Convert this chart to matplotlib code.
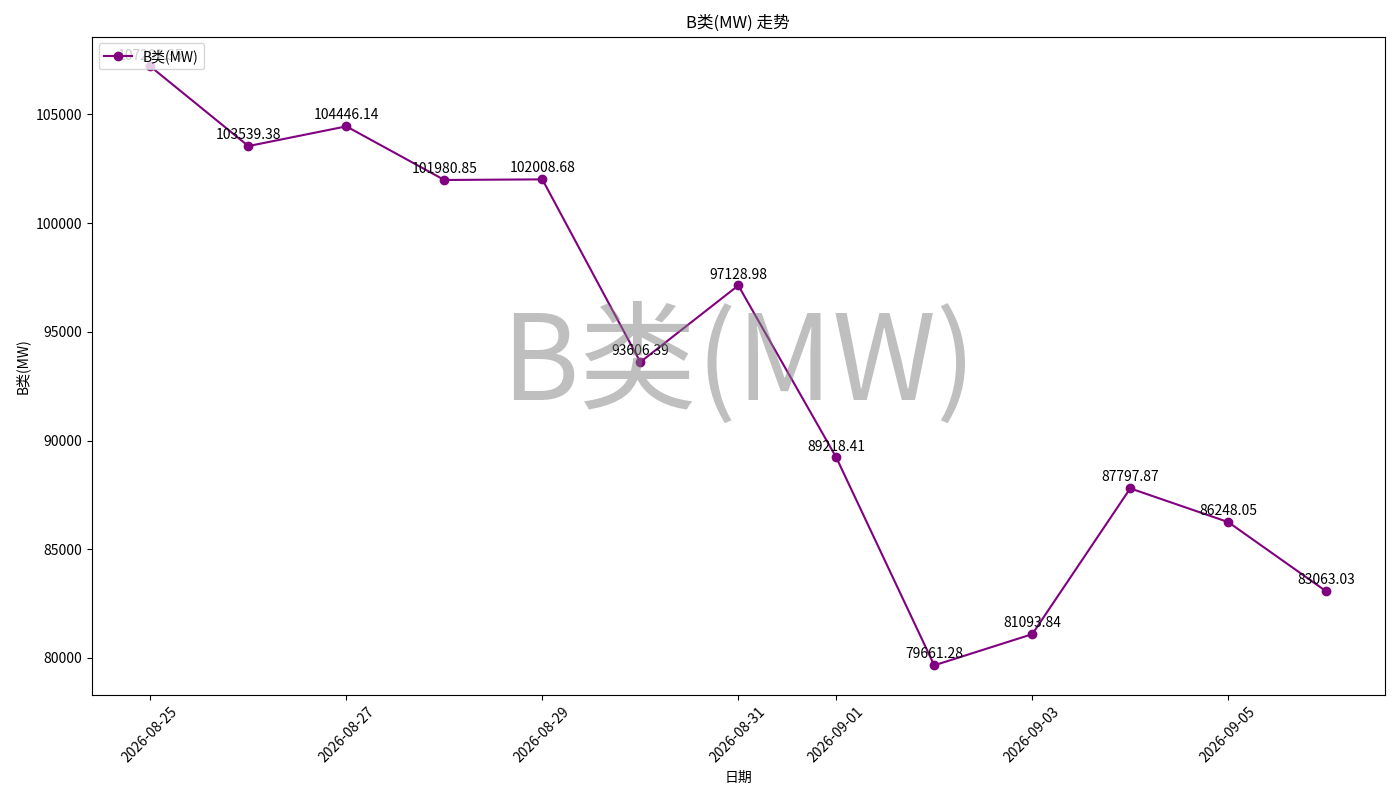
import matplotlib
matplotlib.use("Agg")
import matplotlib.pyplot as plt
import pandas as pd

plt.rcParams['font.family'] = ['Noto Sans CJK SC', 'DejaVu Sans']
plt.rcParams['axes.unicode_minus'] = False

# data
dates = pd.date_range("2026-08-25", "2026-09-06", freq="D")
values = [107201.35, 103539.38, 104446.14, 101980.85, 102008.68, 93606.39,
          97128.98, 89218.41, 79661.28, 81093.84, 87797.87, 86248.05, 83063.03]
series_name = "B类(MW)"

fig, ax = plt.subplots(figsize=(14, 8), dpi=100)
ax.plot(dates, values, marker="o", color="purple", label=series_name)

for d, v in zip(dates, values):
    ax.annotate(f"{v:.2f}", (d, v), textcoords="offset points", xytext=(0, 5),
                ha="center", fontsize=10)

# watermark
ax.text(0.5, 0.5, series_name, transform=ax.transAxes, fontsize=85,
        color="gray", alpha=0.5, ha="center", va="center")

ax.set_title(f"{series_name} 走势")
ax.set_xlabel("日期")
ax.set_ylabel(series_name)
ax.legend(loc="upper left")
plt.setp(ax.get_xticklabels(), rotation=45)
fig.tight_layout()
fig.savefig("out.png")
